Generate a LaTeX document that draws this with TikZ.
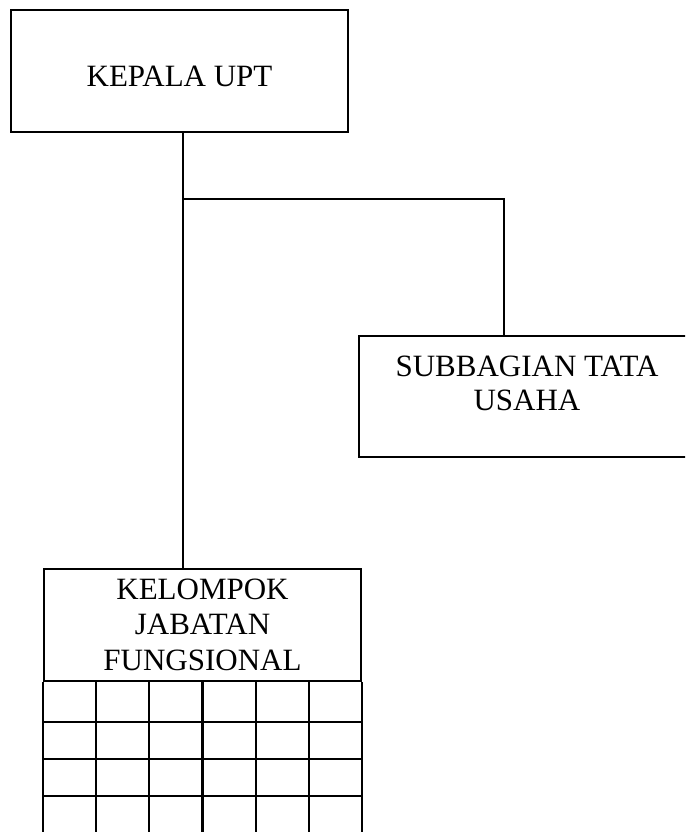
\documentclass[tikz,border=0pt]{standalone}
\usepackage{fontspec}
\setmainfont{Liberation Serif}
\usetikzlibrary{calc}
\begin{document}
\begin{tikzpicture}[x=1pt,y=-1pt,
  box/.style={draw, line width=2.2pt, inner sep=0pt, rectangle},
  link/.style={line width=2.2pt},
  gridline/.style={line width=2.2pt},
  lbl/.style={font=\fontsize{31}{34}\selectfont}]
\useasboundingbox (0,0) rectangle (685,832);
\clip (0,0) rectangle (685,832);
\node[box, lbl, minimum width=337pt, minimum height=122pt] (kepala) at (179.5,71)
  {\raisebox{-16pt}[0pt][0pt]{KEPALA UPT}};
\node[box, lbl, minimum width=336pt, minimum height=121pt] (subbag) at (527,396.5)
  {\raisebox{-13.5pt}[0pt][0pt]{\begin{tabular}[b]{@{}c@{}}SUBBAGIAN TATA\\USAHA\end{tabular}}};
\node[box, minimum width=317pt, minimum height=112pt] (kelompok) at (202.5,625)
  {\raisebox{-45pt}[0pt][0pt]{\fontsize{31}{35.5}\selectfont\begin{tabular}[b]{@{}c@{}}KELOMPOK\\JABATAN\\FUNGSIONAL\end{tabular}}};
\coordinate (trunk) at (183,199);
\coordinate (subin) at (504,336);
\draw[link] (trunk |- kepala.south) -- (trunk |- kelompok.north);
\draw[link] (trunk) -| (subin);
% grid below the header
\draw[gridline] (kelompok.south west) -- ++(0,170);
\draw[gridline] (kelompok.south east) -- ++(0,170);
\foreach \i in {1,...,5}
  \draw[gridline] ($(kelompok.south west)!\i/6!(kelompok.south east)$) -- ++(0,170);
\foreach \d in {40,77,114}
  \draw[gridline] ($(kelompok.south west)+(0,\d)$) -- ($(kelompok.south east)+(0,\d)$);
\end{tikzpicture}
\end{document}
